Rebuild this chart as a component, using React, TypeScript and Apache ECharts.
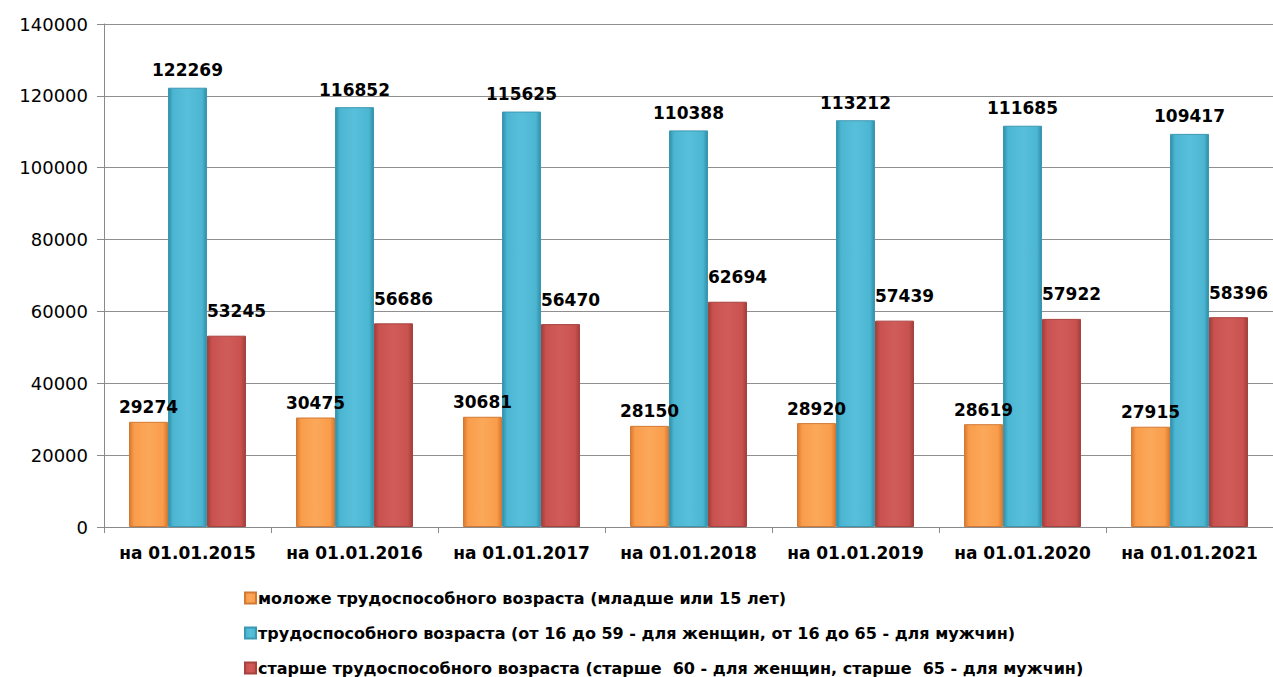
import React, { useEffect, useRef } from "react";
import * as echarts from "echarts";

const categories = [
  "на 01.01.2015",
  "на 01.01.2016",
  "на 01.01.2017",
  "на 01.01.2018",
  "на 01.01.2019",
  "на 01.01.2020",
  "на 01.01.2021",
];
const seriesNames = [
  "моложе трудоспособного возраста (младше или 15 лет)",
  "трудоспособного возраста (от 16 до 59 - для женщин, от 16 до 65 - для мужчин)",
  "старше трудоспособного возраста (старше  60 - для женщин, старше  65 - для мужчин)",
];
const youngValues = [29274, 30475, 30681, 28150, 28920, 28619, 27915];
const workingValues = [122269, 116852, 115625, 110388, 113212, 111685, 109417];
const olderValues = [53245, 56686, 56470, 62694, 57439, 57922, 58396];

const FONT = "DejaVu Sans";

function grad(dark: string, main: string, light: string) {
  return new echarts.graphic.LinearGradient(0, 0, 1, 0, [
    { offset: 0, color: dark },
    { offset: 0.12, color: main },
    { offset: 0.5, color: light },
    { offset: 0.88, color: main },
    { offset: 1, color: dark },
  ]);
}

export default function App() {
  const ref = useRef<HTMLDivElement>(null);
  useEffect(() => {
    document.body.style.margin = "0";
    const chart = echarts.init(ref.current!, null, { renderer: "svg" });
    const labelBase = {
      show: true,
      position: "top" as const,
      color: "#000",
      fontFamily: FONT,
      fontWeight: "bold" as const,
      fontSize: 17,
    };
    const mk = (
      name: string,
      data: number[],
      fill: any,
      border: string,
      dist: number,
      dx: number
    ) => ({
      type: "bar",
      name,
      data,
      barWidth: 39,
      barGap: "0%",
      itemStyle: { color: fill, borderColor: border, borderWidth: 1 },
      label: { ...labelBase, distance: dist, offset: [dx, 0] },
      emphasis: { disabled: true },
    });
    chart.setOption({
      animation: false,
      color: ["#F79646", "#4BACC6", "#C0504D"],
      grid: { left: 104, right: 0, top: 24, bottom: 150, containLabel: false },
      xAxis: {
        type: "category",
        data: categories,
        axisLine: { lineStyle: { color: "#8a8a8a", width: 1 } },
        axisTick: { show: true, length: 6, lineStyle: { color: "#8a8a8a" } },
        axisLabel: {
          interval: 0,
          color: "#000",
          fontFamily: FONT,
          fontWeight: "bold",
          fontSize: 17,
          margin: 17,
        },
      },
      yAxis: {
        type: "value",
        min: 0,
        max: 140000,
        interval: 20000,
        axisLine: { show: true, lineStyle: { color: "#8a8a8a", width: 1 } },
        axisTick: { show: true, length: 7, lineStyle: { color: "#8a8a8a" } },
        axisLabel: {
          color: "#000",
          fontFamily: FONT,
          fontSize: 18,
          margin: 16,
          formatter: (v: number) => String(v),
        },
        splitLine: { lineStyle: { color: "#8f8f8f", width: 1 } },
      },
      legend: {
        orient: "vertical",
        left: 244,
        top: 589,
        height: 120,
        padding: 0,
        itemWidth: 11,
        itemHeight: 11,
        itemGap: 17,
        icon: "rect",
        textStyle: {
          color: "#000",
          fontFamily: FONT,
          fontWeight: "bold",
          fontSize: 16,
          lineHeight: 18,
          padding: [0, 0, 0, -3],
        },
      },
      series: [
        mk(seriesNames[0], youngValues, grad("#D9782E", "#F99D4B", "#FBA85A"), "#D27A35", 6, 0),
        mk(seriesNames[1], workingValues, grad("#2F8FA8", "#4CB6D2", "#58BFDA"), "#3B98B2", 9, 0),
        mk(seriesNames[2], olderValues, grad("#A23E3B", "#C9524F", "#D05C59"), "#A8423F", 16, 10),
      ],
    });
    return () => chart.dispose();
  }, []);
  return (
    <div
      ref={ref}
      style={{ position: "fixed", left: 0, top: 0, width: 1273, height: 677, background: "#fff" }}
    />
  );
}
